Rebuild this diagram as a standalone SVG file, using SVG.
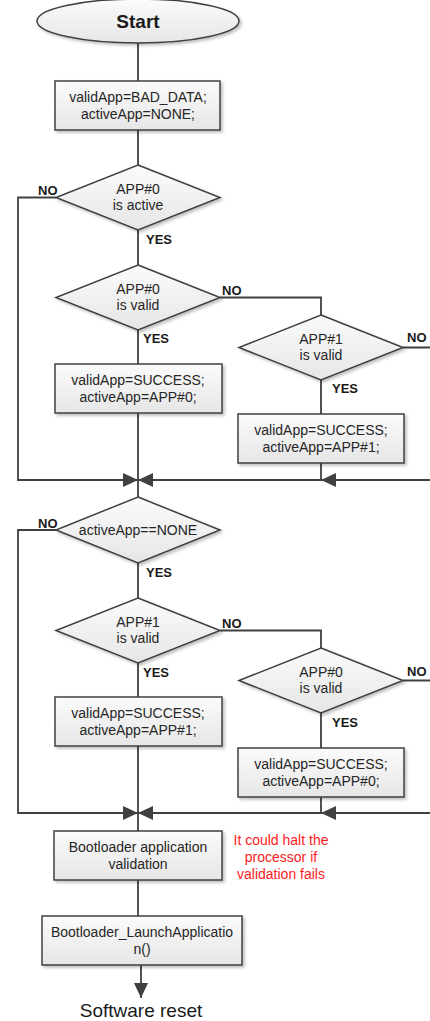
<svg xmlns="http://www.w3.org/2000/svg" width="430" height="1021" viewBox="0 0 430 1021">
<style>
.shape{fill:url(#g);stroke:#404040;stroke-width:1.5;filter:url(#sh)}
.t{font-family:"Liberation Sans",Arial,sans-serif;font-size:14px;fill:#262626;text-anchor:middle}
.lb{font-family:"Liberation Sans",Arial,sans-serif;font-size:13px;font-weight:bold;fill:#1a1a1a}
.red{font-family:"Liberation Sans",Arial,sans-serif;font-size:14px;fill:#ff1a1a;text-anchor:middle}
.big{font-family:"Liberation Sans",Arial,sans-serif;font-size:19px;fill:#1a1a1a;text-anchor:middle}
.c{fill:none;stroke:#404040;stroke-width:1.8}
.a{fill:none;stroke:#404040;stroke-width:1.8;marker-end:url(#ah)}
</style>
<defs>
<linearGradient id="g" x1="0" y1="0" x2="0" y2="1">
<stop offset="0" stop-color="#fbfbfb"/>
<stop offset="1" stop-color="#e6e6e6"/>
</linearGradient>
<filter id="sh" x="-10%" y="-10%" width="130%" height="140%">
<feDropShadow dx="2" dy="2" stdDeviation="1.5" flood-color="#000" flood-opacity="0.25"/>
</filter>
<marker id="ah" markerUnits="userSpaceOnUse" markerWidth="16" markerHeight="14" refX="15" refY="7" orient="auto">
<path d="M0,0 L15,7 L0,14 z" fill="#404040"/>
</marker>
</defs>

<g id="connectors">
<path class="c" d="M138,43 V81"/>
<path class="c" d="M138,130 V165"/>
<path class="a" d="M56,197.5 H18 V480 H138"/>
<path class="c" d="M138,230 V265"/>
<path class="c" d="M220,297.5 H321 V315"/>
<path class="c" d="M138,330 V364"/>
<path class="c" d="M138,413 V497"/>
<path class="c" d="M321,380 V414"/>
<path class="c" d="M321,463 V480"/>
<path class="a" d="M403,347.5 H433 V480 H321"/>
<path class="a" d="M321,480 H138"/>
<path class="a" d="M56,530 H18 V813 H138"/>
<path class="c" d="M138,563 V598"/>
<path class="c" d="M220,630.5 H321 V648"/>
<path class="c" d="M138,663 V697"/>
<path class="c" d="M138,746 V831"/>
<path class="c" d="M321,713 V748"/>
<path class="c" d="M321,797 V813"/>
<path class="a" d="M403,680.5 H433 V813 H321"/>
<path class="a" d="M321,813 H138"/>
<path class="c" d="M138,880 V916"/>
<path class="a" d="M141,965 V998"/>
<text class="lb" x="38" y="195">NO</text>
<text class="lb" x="146" y="244">YES</text>
<text class="lb" x="222" y="295">NO</text>
<text class="lb" x="143" y="343">YES</text>
<text class="lb" x="407" y="342">NO</text>
<text class="lb" x="332" y="393">YES</text>
<text class="lb" x="38" y="528">NO</text>
<text class="lb" x="146" y="577">YES</text>
<text class="lb" x="222" y="628">NO</text>
<text class="lb" x="143" y="677">YES</text>
<text class="lb" x="407" y="676">NO</text>
<text class="lb" x="332" y="727">YES</text>
</g>

<g id="start">
<ellipse class="shape" cx="138" cy="21" rx="101" ry="22"/>
<text class="big" x="138" y="28" font-weight="bold">Start</text>
</g>

<g id="init">
<rect class="shape" x="55" y="81" width="165" height="49"/>
<text class="t" x="138" y="102">validApp=BAD_DATA;</text>
<text class="t" x="138" y="119">activeApp=NONE;</text>
</g>

<g id="d_app0_active">
<polygon class="shape" points="138,165 220,197.5 138,230 56,197.5"/>
<text class="t" x="138" y="194">APP#0</text>
<text class="t" x="138" y="210">is active</text>
</g>

<g id="d_app0_valid_1">
<polygon class="shape" points="138,265 220,297.5 138,330 56,297.5"/>
<text class="t" x="138" y="294">APP#0</text>
<text class="t" x="138" y="310">is valid</text>
</g>

<g id="d_app1_valid_1">
<polygon class="shape" points="321,315 403,347.5 321,380 239,347.5"/>
<text class="t" x="321" y="344">APP#1</text>
<text class="t" x="321" y="360">is valid</text>
</g>

<g id="set_app0_1">
<rect class="shape" x="55" y="364" width="167" height="49"/>
<text class="t" x="138" y="385">validApp=SUCCESS;</text>
<text class="t" x="138" y="402">activeApp=APP#0;</text>
</g>

<g id="set_app1_1">
<rect class="shape" x="238" y="414" width="166" height="49"/>
<text class="t" x="321" y="435">validApp=SUCCESS;</text>
<text class="t" x="321" y="452">activeApp=APP#1;</text>
</g>

<g id="d_none">
<polygon class="shape" points="138,497 220,530 138,563 56,530"/>
<text class="t" x="138" y="535">activeApp==NONE</text>
</g>

<g id="d_app1_valid_2">
<polygon class="shape" points="138,598 220,630.5 138,663 56,630.5"/>
<text class="t" x="138" y="627">APP#1</text>
<text class="t" x="138" y="643">is valid</text>
</g>

<g id="d_app0_valid_2">
<polygon class="shape" points="321,648 403,680.5 321,713 239,680.5"/>
<text class="t" x="321" y="677">APP#0</text>
<text class="t" x="321" y="693">is valid</text>
</g>

<g id="set_app1_2">
<rect class="shape" x="55" y="697" width="167" height="49"/>
<text class="t" x="138" y="718">validApp=SUCCESS;</text>
<text class="t" x="138" y="735">activeApp=APP#1;</text>
</g>

<g id="set_app0_2">
<rect class="shape" x="238" y="748" width="166" height="49"/>
<text class="t" x="321" y="769">validApp=SUCCESS;</text>
<text class="t" x="321" y="786">activeApp=APP#0;</text>
</g>

<g id="validation">
<rect class="shape" x="54" y="831" width="168" height="49"/>
<text class="t" x="138" y="852">Bootloader application</text>
<text class="t" x="138" y="869">validation</text>
</g>

<g id="note">
<text class="red" x="281" y="845">It could halt the</text>
<text class="red" x="281" y="862">processor if</text>
<text class="red" x="281" y="879">validation fails</text>
</g>

<g id="launch">
<rect class="shape" x="42" y="916" width="200" height="49"/>
<text class="t" x="142" y="937">Bootloader_LaunchApplicatio</text>
<text class="t" x="142" y="954">n()</text>
</g>

<g id="reset">
<text class="big" x="141" y="1017">Software reset</text>
</g>
</svg>
